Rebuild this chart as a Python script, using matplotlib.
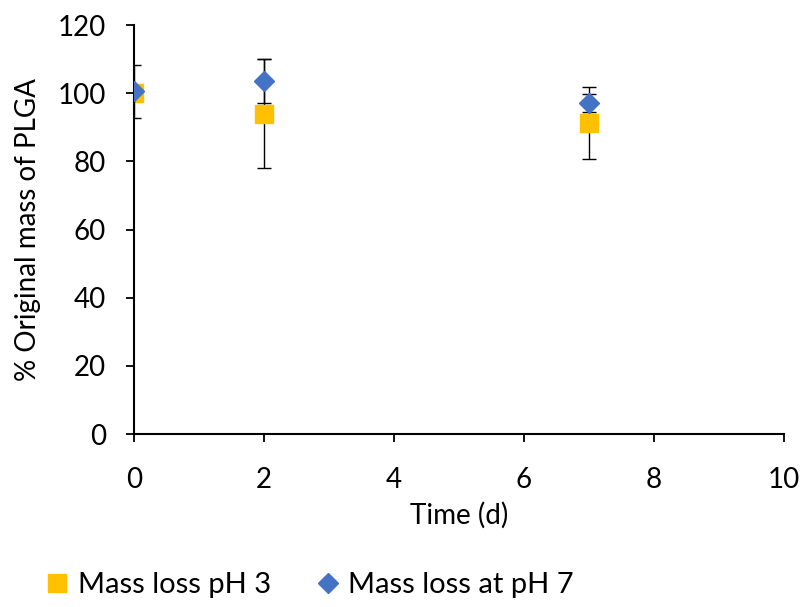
import matplotlib
matplotlib.use("Agg")
import matplotlib.pyplot as plt
from matplotlib.lines import Line2D

# data
time_d = [0, 2, 7]
ph3_mass = [100, 94, 91.2]
ph3_err = [0, 16, 10.6]
ph7_mass = [100.5, 103.5, 97.1]
ph7_err = [7.8, 6.5, 2.7]
labels = ["Mass loss pH 3", "Mass loss at pH 7"]
x_ticks = [0, 2, 4, 6, 8, 10]
y_ticks = [0, 20, 40, 60, 80, 100, 120]

YELLOW = '#FFC000'
BLUE = '#4472C4'

plt.rcParams['font.family'] = ['Lato', 'DejaVu Sans']

fig = plt.figure(figsize=(8.04, 6.07), dpi=100)
ax = fig.add_axes([0.1667, 0.285, 0.8083, 0.6738])

ax.errorbar(time_d, ph3_mass, yerr=ph3_err, fmt='s', color=YELLOW,
            ecolor='black', elinewidth=1, capsize=5, capthick=1,
            markersize=13, zorder=3)
ax.errorbar(time_d, ph7_mass, yerr=ph7_err, fmt='D', color=BLUE,
            ecolor='black', elinewidth=1, capsize=5, capthick=1,
            markersize=10, zorder=4)

ax.set_xlim(0, 10)
ax.set_ylim(0, 120)
ax.set_xticks(x_ticks)
ax.set_yticks(y_ticks)
ax.tick_params(axis='both', labelsize=20, length=6, width=1.3, color='black')
ax.tick_params(axis='x', pad=18)
ax.tick_params(axis='y', pad=14)
ax.spines['top'].set_visible(False)
ax.spines['right'].set_visible(False)
for s in ['left', 'bottom']:
    ax.spines[s].set_linewidth(1.5)
for sp in ax.spines.values():
    sp.set_clip_on(False)

ax.set_xlabel("Time (d)", fontsize=20, labelpad=6)
ax.set_ylabel("% Original mass of PLGA", fontsize=20, labelpad=12)

handles = [
    Line2D([], [], marker='s', linestyle='none', color=YELLOW, markersize=13),
    Line2D([], [], marker='D', linestyle='none', color=BLUE, markersize=10),
]
fig.legend(handles, labels, loc='center left', bbox_to_anchor=(0.035, 0.036),
           ncol=2, frameon=False, fontsize=21, handletextpad=0.1,
           columnspacing=1.35, handlelength=1.2, borderaxespad=0)

fig.savefig("out.png", dpi=100)
